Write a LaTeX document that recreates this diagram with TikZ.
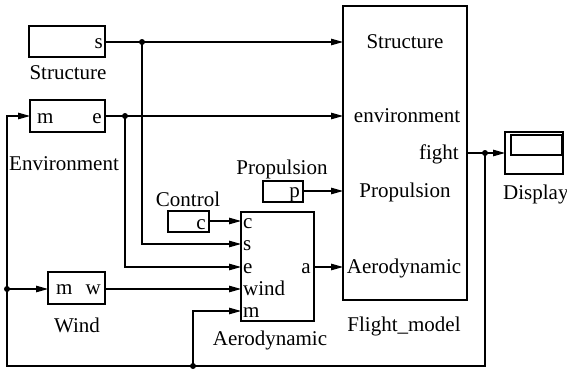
\documentclass[tikz,border=0pt]{standalone}
\usepackage{fontspec}
\setmainfont{Liberation Serif}
\usetikzlibrary{arrows.meta}
\begin{document}
\begin{tikzpicture}[x=1pt,y=-1pt,
  blk/.style={draw,line width=2.3pt,minimum width=#1,inner sep=0pt},
  txt/.style={inner sep=0pt,anchor=base,font=\fontsize{21}{25}\selectfont},
  wire/.style={line width=1.1pt},
  arr/.style={wire,-{Triangle[length=12pt,width=6.5pt]}},
  dot/.style={circle,fill,inner sep=0pt,minimum size=6pt}]
\useasboundingbox (0,0) rectangle (567,370);
% blocks
\node[blk=76pt,minimum height=31pt] (struct) at (67,41.5) {};
\node[blk=75pt,minimum height=32pt] (env) at (67.5,116) {};
\node[blk=57pt,minimum height=32pt] (wind) at (76.5,288) {};
\node[blk=41pt,minimum height=21pt] (ctrl) at (188.5,221.5) {};
\node[blk=40pt,minimum height=21pt] (prop) at (283,191.5) {};
\node[blk=73pt,minimum height=109pt] (aero) at (277.5,266.5) {};
\node[blk=124pt,minimum height=294pt] (fm) at (405,153) {};
\node[blk=58pt,minimum height=42pt] (disp) at (534,153) {};
\node[draw,line width=2pt,minimum width=51pt,minimum height=20pt,inner sep=0pt] (dispin) at (536.5,145) {};
% texts in blocks
\node[txt,anchor=base east] (ts) at (103,48) {s};
\node[txt,anchor=base west] (tem) at (37,123) {m};
\node[txt,anchor=base east] (tee) at (102,123) {e};
\node[txt,anchor=base west] (twm) at (56,294) {m};
\node[txt,anchor=base east] (tww) at (101,294) {w};
\node[txt,anchor=base east] (tc) at (206,229) {c};
\node[txt,anchor=base east] (tp) at (300,197) {p};
\node[txt,anchor=base west] (tac) at (243,228) {c};
\node[txt,anchor=base west] (tas) at (243,250) {s};
\node[txt,anchor=base west] (tae) at (243,273) {e};
\node[txt,anchor=base west] (taw) at (243,295) {wind};
\node[txt,anchor=base west] (tam) at (243,317) {m};
\node[txt,anchor=base east] (taa) at (311,273) {a};
\node[txt] (fs) at (405,48) {Structure};
\node[txt] (fe) at (407,122) {environment};
\node[txt,anchor=base east] (ff) at (459,159) {fight};
\node[txt] (fp) at (405,197) {Propulsion};
\node[txt] (fa) at (404,273) {Aerodynamic};
% labels
\node[txt] (lstruct) at (68,79) {Structure};
\node[txt] (lenv) at (64,170) {Environment};
\node[txt] (lwind) at (77,332) {Wind};
\node[txt] (lctrl) at (188,206) {Control};
\node[txt] (lprop) at (282,174) {Propulsion};
\node[txt] (laero) at (270,345) {Aerodynamic};
\node[txt] (lfm) at (404,331) {Flight\_model};
\node[txt,anchor=base west] (ldisp) at (503,199) {Display};
% ports / junctions
\coordinate (sout) at (105,42);
\coordinate (fmS) at (343,42);
\coordinate (eout) at (105,116);
\coordinate (fmE) at (343,116);
\coordinate (ein) at (30,116);
\coordinate (pout) at (303,191);
\coordinate (fmP) at (343,191);
\coordinate (aout) at (314,267);
\coordinate (fmA) at (343,267);
\coordinate (cout) at (209,221);
\coordinate (ac) at (241,221);
\coordinate (as) at (241,244);
\coordinate (ae) at (241,267);
\coordinate (aw) at (241,289);
\coordinate (am) at (241,311);
\coordinate (win) at (48,289);
\coordinate (wout) at (105,289);
\coordinate (fout) at (467,153);
\coordinate (din) at (505,153);
\node[dot] (js) at (142,42) {};
\node[dot] (je) at (125,116) {};
\node[dot] (jf) at (485,153) {};
\node[dot] (jw) at (7,289) {};
\node[dot] (jm) at (193,366) {};
% wires
\draw[arr] (sout) -- (fmS);
\draw[arr] (js.center) |- (as);
\draw[arr] (eout) -- (fmE);
\draw[arr] (je.center) |- (ae);
\draw[arr] (pout) -- (fmP);
\draw[arr] (aout) -- (fmA);
\draw[arr] (cout) -- (ac);
\draw[arr] (wout) -- (aw);
\draw[arr] (fout) -- (din);
\draw[arr] (jf.center) -- (jf.center |- jm.center) -- (jw.center |- jm.center) |- (ein);
\draw[arr] (jw.center) -- (win);
\draw[arr] (jm.center) |- (am);
\end{tikzpicture}
\end{document}
